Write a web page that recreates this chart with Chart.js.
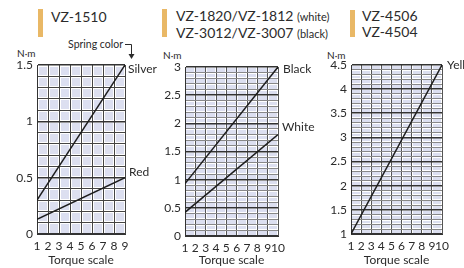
<!DOCTYPE html>
<html>
<head>
<meta charset="utf-8">
<script src="https://cdn.jsdelivr.net/npm/chart.js@4.4.0/dist/chart.umd.min.js"></script>
<style>
body { margin: 0; width: 464px; height: 268px; background: #fff; overflow: hidden; position: relative; font-family: Lato, sans-serif; color: #2b2b2b; }
canvas { position: absolute; top: 40px; }
.bar { position: absolute; width: 5px; background: #e9b866; }
.t { position: absolute; font-size: 14px; line-height: 16px; white-space: nowrap; }
.t small { font-size: 11px; }
.u { position: absolute; font-size: 10px; line-height: 12px; white-space: nowrap; }
svg { position: absolute; left: 0; top: 0; }
</style>
</head>
<body>
<div class="bar" style="left:38px;top:9px;height:28px"></div>
<div class="t" style="left:51px;top:9px">VZ-1510</div>
<div class="bar" style="left:162px;top:9px;height:28px"></div>
<div class="t" style="left:176px;top:8px">VZ-1820/VZ-1812 <small>(white)</small><br>VZ-3012/VZ-3007 <small>(black)</small></div>
<div class="bar" style="left:350px;top:10px;height:27px"></div>
<div class="t" style="left:362px;top:8px">VZ-4506<br>VZ-4504</div>

<div class="u" style="left:17px;top:47px">N·m</div>
<div class="u" style="left:163px;top:49px">N·m</div>
<div class="u" style="left:327px;top:49px">N·m</div>
<div class="u" style="right:341px;top:38px;font-size:10.5px">Spring color</div>
<svg width="160" height="70">
  <path d="M125 44.5 H131.5 V55" stroke="#2b2b2b" stroke-width="1" fill="none"/>
  <polygon points="128.5,54 134.5,54 131.5,59" fill="#2b2b2b"/>
</svg>

<canvas id="c1" width="160" height="228" style="left:0"></canvas>
<canvas id="c2" width="170" height="228" style="left:150px"></canvas>
<canvas id="c3" width="154" height="228" style="left:310px"></canvas>

<script>
// values
const torque1 = [1, 9];
const silver = [0.3, 1.5];
const red = [0.13, 0.5];

const torque2 = [1, 10];
const black = [0.93, 3];
const white = [0.42, 1.8];

const torque3 = [1, 10];
const yellow = [1, 4.5];

const TEXT = '#2b2b2b';
const FILL = '#dcdff0';
const FONT = { family: 'Lato', size: 12 };

const major = (v) => Math.abs(v * 2 - Math.round(v * 2)) < 1e-6;

const plotBg = {
    id: 'plotBg',
    beforeDraw(chart) {
        const { ctx, chartArea: a } = chart;
        ctx.save();
        ctx.fillStyle = FILL;
        ctx.fillRect(a.left, a.top, a.right - a.left, a.bottom - a.top);
        ctx.restore();
    }
};

const endLabels = {
    id: 'endLabels',
    afterDatasetsDraw(chart) {
        const { ctx } = chart;
        ctx.save();
        ctx.font = '12px Lato';
        ctx.fillStyle = TEXT;
        ctx.textAlign = 'left';
        ctx.textBaseline = 'middle';
        chart.data.datasets.forEach((ds, i) => {
            const pts = chart.getDatasetMeta(i).data;
            const p = pts[pts.length - 1];
            ctx.fillText(ds.label, p.x + ds.tag[0], p.y + ds.tag[1]);
        });
        ctx.restore();
    }
};

function panel(id, o) {
    const under = (extra) => ({
        type: 'linear', display: true,
        ticks: { display: false, autoSkip: false, ...extra.ticks },
        border: { display: false },
        grid: { color: '#fff', lineWidth: o.gap, z: -2, drawTicks: false },
        afterFit: (s) => { s.width = 0; s.height = 0; },
        position: extra.position, min: extra.min, max: extra.max
    });
    new Chart(document.getElementById(id), {
        type: 'line',
        data: {
            datasets: o.series.map(s => ({
                label: s.name, tag: s.tag,
                data: o.torque.map((x, i) => ({ x, y: s.values[i] })),
                xAxisID: 'x', yAxisID: 'y',
                borderColor: '#1c1c1c', borderWidth: 1.5, pointRadius: 0, tension: 0
            }))
        },
        options: {
            responsive: false,
            animation: false,
            layout: { padding: o.pad },
            plugins: { legend: { display: false }, tooltip: { enabled: false } },
            scales: {
                x: {
                    type: 'linear', position: 'bottom', min: o.xMin, max: o.xMax,
                    ticks: { stepSize: 1, autoSkip: false, maxRotation: 0, padding: 5, color: TEXT, font: FONT },
                    grid: { color: o.vColor, lineWidth: 1, drawTicks: false },
                    border: { color: '#333', width: 1 },
                    title: { display: true, text: 'Torque scale', color: TEXT, font: FONT, padding: { top: 2, bottom: 1 } },
                    afterFit: (s) => { s.height = o.xh; }
                },
                y: {
                    type: 'linear', position: 'left', min: o.yMin, max: o.yMax,
                    ticks: { stepSize: 0.1, autoSkip: false, padding: 4, color: TEXT, font: FONT,
                        callback: (v) => major(v) ? String(Math.round(v * 10) / 10) : '' },
                    grid: {
                        drawTicks: false,
                        color: (c) => major(c.tick.value) ? '#333' : o.hColor,
                        lineWidth: (c) => major(c.tick.value) ? 1.6 : 1
                    },
                    border: { color: '#333', width: 1 },
                    afterFit: (s) => { s.width = o.yw; }
                },
                xu: under({ position: 'bottom', min: o.xMin, max: o.xMax, ticks: { stepSize: 1 } }),
                yu: under({ position: 'left', min: o.yMin, max: o.yMax, ticks: { stepSize: 0.1 } })
            }
        },
        plugins: [plotBg, endLabels]
    });
}

panel('c1', {
    torque: torque1, xMin: 1, xMax: 9, yMin: 0, yMax: 1.5,
    series: [{ name: 'Silver', values: silver, tag: [3, 4] }, { name: 'Red', values: red, tag: [4, -6] }],
    pad: { top: 25, right: 35, left: 0, bottom: 0 }, yw: 37, xh: 34,
    gap: 3, vColor: '#444', hColor: '#444'
});

panel('c2', {
    torque: torque2, xMin: 1, xMax: 10, yMin: 0, yMax: 3,
    series: [{ name: 'Black', values: black, tag: [5, 2] }, { name: 'White', values: white, tag: [4, -7] }],
    pad: { top: 27, right: 42, left: 0, bottom: 0 }, yw: 35, xh: 32,
    gap: 2, vColor: '#555', hColor: '#888'
});

panel('c3', {
    torque: torque3, xMin: 1, xMax: 10, yMin: 1, yMax: 4.5,
    series: [{ name: 'Yellow', values: yellow, tag: [5, 0] }],
    pad: { top: 25, right: 22, left: 0, bottom: 0 }, yw: 41, xh: 34,
    gap: 2, vColor: '#555', hColor: '#888'
});
</script>
</body>
</html>
